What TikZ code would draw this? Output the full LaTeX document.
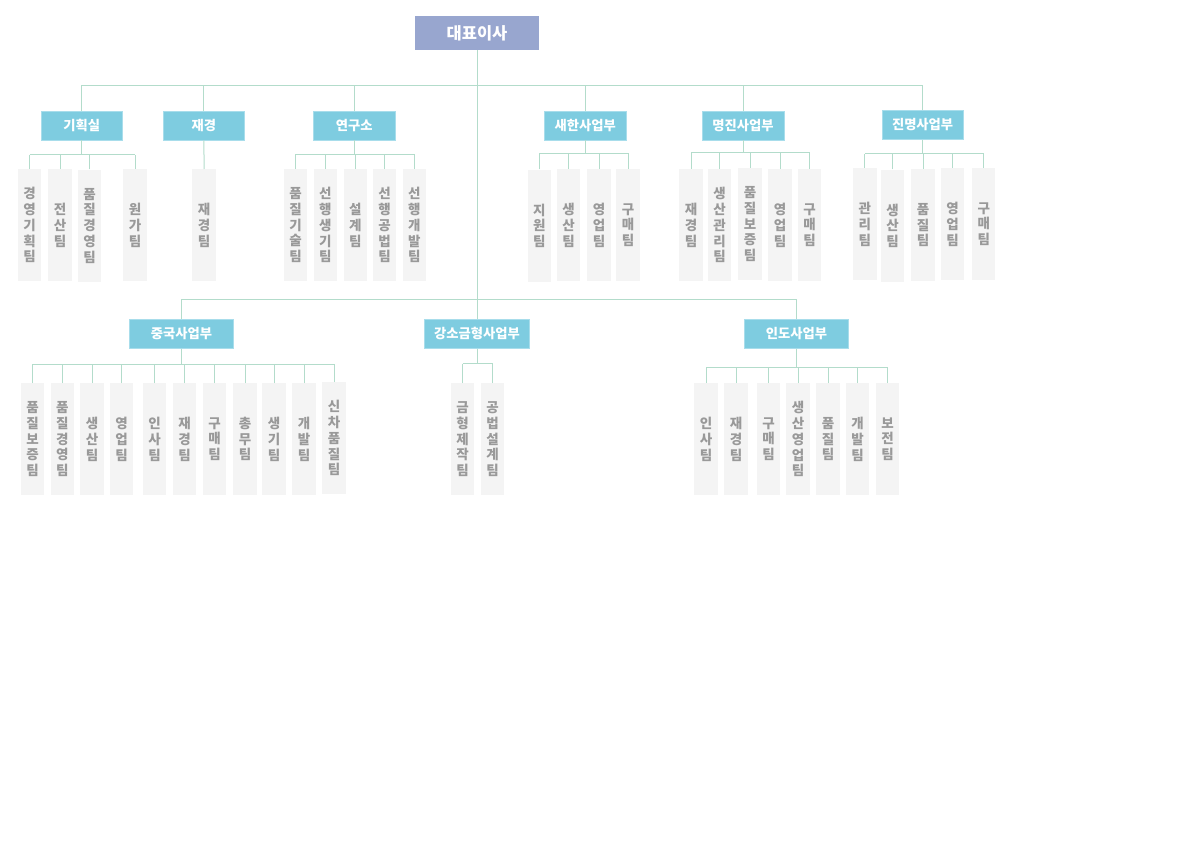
\documentclass[tikz,border=0pt]{standalone}
\usepackage{fontspec}
\newfontfamily\kr{Noto Sans CJK KR}
\definecolor{ceoblue}{HTML}{98A6CF}
\definecolor{deptblue}{HTML}{7ECCE0}
\definecolor{deptborder}{HTML}{A8DDEB}
\definecolor{linegreen}{HTML}{B3DCCB}
\definecolor{leafgray}{HTML}{F4F4F4}
\definecolor{leaftext}{HTML}{999999}
\tikzset{
  conn/.style={draw=linegreen, line width=1pt},
  ceo/.style={fill=ceoblue, minimum width=124, minimum height=34, inner sep=0,
    text=white, font=\kr\bfseries\fontsize{16.5}{19}\selectfont},
  dept/.style={fill=deptblue, draw=deptborder, line width=0.8, minimum height=29,
    inner sep=0, text=white, font=\kr\bfseries\fontsize{13.3}{15}\selectfont},
  leaf/.style={fill=leafgray, minimum width=23.5, minimum height=112, inner sep=0,
    text=leaftext, align=center, anchor=north,
    font=\kr\bfseries\fontsize{13.5}{15.7}\selectfont},
}
\begin{document}
\begin{tikzpicture}[x=1pt,y=-1pt]
\useasboundingbox[fill=white] (0,0) rectangle (1191,842);

% CEO
\node[ceo] (ceo) at (477,33.3) {대표이사};

% top-level departments
\node[dept, minimum width=81] (kh) at (81.8,125.5) {기획실};
\node[dept, minimum width=81] (jg) at (203.8,125.5) {재경};
\node[dept, minimum width=82] (yg) at (354.3,125.5) {연구소};
\node[dept, minimum width=82] (sh) at (585.3,125.5) {새한사업부};
\node[dept, minimum width=82] (mj) at (743,125.5) {명진사업부};
\node[dept, minimum width=81] (jmg) at (922.6,125) {진명사업부};

% second-level departments
\node[dept, minimum width=104] (cn) at (181.5,333.8) {중국사업부};
\node[dept, minimum width=105] (gs) at (477,333.8) {강소금형사업부};
\node[dept, minimum width=104] (ind) at (796.5,333.8) {인도사업부};

% leaves: 기획실
\node[leaf] (k1) at (29.5,169) {경\\영\\기\\획\\팀};
\node[leaf] (k2) at (60,169) {전\\산\\팀};
\node[leaf] (k3) at (89.5,169.5) {품\\질\\경\\영\\팀};
\node[leaf] (k4) at (135,169) {원\\가\\팀};
% 재경
\node[leaf] (j1) at (204.2,169) {재\\경\\팀};
% 연구소
\node[leaf] (y1) at (295.5,169) {품\\질\\기\\술\\팀};
\node[leaf] (y2) at (325.3,169) {선\\행\\생\\기\\팀};
\node[leaf] (y3) at (355.3,169) {설\\계\\팀};
\node[leaf] (y4) at (384.5,169) {선\\행\\공\\법\\팀};
\node[leaf] (y5) at (414.3,169) {선\\행\\개\\발\\팀};
% 새한
\node[leaf] (s1) at (539.3,169.5) {지\\원\\팀};
\node[leaf] (s2) at (568.7,169) {생\\산\\팀};
\node[leaf] (s3) at (599,169) {영\\업\\팀};
\node[leaf] (s4) at (628,169) {구\\매\\팀};
% 명진
\node[leaf] (m1) at (691.2,169) {재\\경\\팀};
\node[leaf] (m2) at (719.5,169) {생\\산\\관\\리\\팀};
\node[leaf] (m3) at (750,168) {품\\질\\보\\증\\팀};
\node[leaf] (m4) at (780,169) {영\\업\\팀};
\node[leaf] (m5) at (809.5,169) {구\\매\\팀};
% 진명
\node[leaf] (n1) at (864.8,168) {관\\리\\팀};
\node[leaf] (n2) at (892.5,169.5) {생\\산\\팀};
\node[leaf] (n3) at (923,169) {품\\질\\팀};
\node[leaf] (n4) at (952.5,168) {영\\업\\팀};
\node[leaf] (n5) at (983.7,168) {구\\매\\팀};
% 중국
\node[leaf] (c1) at (32.5,383) {품\\질\\보\\증\\팀};
\node[leaf] (c2) at (62.3,383) {품\\질\\경\\영\\팀};
\node[leaf] (c3) at (92,383) {생\\산\\팀};
\node[leaf] (c4) at (121.5,383) {영\\업\\팀};
\node[leaf] (c5) at (154.5,383) {인\\사\\팀};
\node[leaf] (c6) at (184.5,383) {재\\경\\팀};
\node[leaf] (c7) at (214.5,383) {구\\매\\팀};
\node[leaf] (c8) at (245,383) {총\\무\\팀};
\node[leaf] (c9) at (274,383) {생\\기\\팀};
\node[leaf] (c10) at (304,383) {개\\발\\팀};
\node[leaf] (c11) at (334,382) {신\\차\\품\\질\\팀};
% 강소금형
\node[leaf] (g1) at (462.5,383) {금\\형\\제\\작\\팀};
\node[leaf] (g2) at (492.5,383) {공\\법\\설\\계\\팀};
% 인도
\node[leaf] (i1) at (706,383) {인\\사\\팀};
\node[leaf] (i2) at (736,383) {재\\경\\팀};
\node[leaf] (i3) at (768.5,383) {구\\매\\팀};
\node[leaf] (i4) at (798,383) {생\\산\\영\\업\\팀};
\node[leaf] (i5) at (828,383) {품\\질\\팀};
\node[leaf] (i6) at (857.5,383) {개\\발\\팀};
\node[leaf] (i7) at (887.5,383) {보\\전\\팀};

% bus coordinates
\coordinate (bTop) at (0,85.3);
\coordinate (bMid) at (0,299.3);
\coordinate (bKH) at (0,155);
\coordinate (bYG) at (0,154.3);
\coordinate (bSH) at (0,153.3);
\coordinate (bMJ) at (0,152.3);
\coordinate (bJM) at (0,153.7);
\coordinate (bCN) at (0,364);
\coordinate (bGS) at (0,363.5);
\coordinate (bIN) at (0,367.7);

% CEO connectors
\draw[conn] (ceo.south) -- (gs.north);
\draw[conn] (kh.north |- bTop) -- (jmg.north |- bTop);
\foreach \d in {kh,jg,yg,sh,mj,jmg} \draw[conn] (\d.north) -- (\d.north |- bTop);
\draw[conn] (cn.north |- bMid) -- (ind.north |- bMid);
\foreach \d in {cn,ind} \draw[conn] (\d.north) -- (\d.north |- bMid);

% 기획실
\draw[conn] (kh.south) -- (kh.south |- bKH);
\draw[conn] (k1.north |- bKH) -- (k4.north |- bKH);
\foreach \c in {k1,k2,k3,k4} \draw[conn] (\c.north) -- (\c.north |- bKH);
% 재경
\draw[conn] (jg.south) -- (j1.north);
% 연구소
\draw[conn] (yg.south) -- (yg.south |- bYG);
\draw[conn] (y1.north |- bYG) -- (y5.north |- bYG);
\foreach \c in {y1,y2,y3,y4,y5} \draw[conn] (\c.north) -- (\c.north |- bYG);
% 새한
\draw[conn] (sh.south) -- (sh.south |- bSH);
\draw[conn] (s1.north |- bSH) -- (s4.north |- bSH);
\foreach \c in {s1,s2,s3,s4} \draw[conn] (\c.north) -- (\c.north |- bSH);
% 명진
\draw[conn] (mj.south) -- (mj.south |- bMJ);
\draw[conn] (m1.north |- bMJ) -- (m5.north |- bMJ);
\foreach \c in {m1,m2,m3,m4,m5} \draw[conn] (\c.north) -- (\c.north |- bMJ);
% 진명
\draw[conn] (jmg.south) -- (jmg.south |- bJM);
\draw[conn] (n1.north |- bJM) -- (n5.north |- bJM);
\foreach \c in {n1,n2,n3,n4,n5} \draw[conn] (\c.north) -- (\c.north |- bJM);
% 중국
\draw[conn] (cn.south) -- (cn.south |- bCN);
\draw[conn] (c1.north |- bCN) -- (c11.north |- bCN);
\foreach \c in {c1,c2,c3,c4,c5,c6,c7,c8,c9,c10,c11} \draw[conn] (\c.north) -- (\c.north |- bCN);
% 강소금형
\draw[conn] (gs.south) -- (gs.south |- bGS);
\draw[conn] (g1.north |- bGS) -- (g2.north |- bGS);
\foreach \c in {g1,g2} \draw[conn] (\c.north) -- (\c.north |- bGS);
% 인도
\draw[conn] (ind.south) -- (ind.south |- bIN);
\draw[conn] (i1.north |- bIN) -- (i7.north |- bIN);
\foreach \c in {i1,i2,i3,i4,i5,i6,i7} \draw[conn] (\c.north) -- (\c.north |- bIN);
\end{tikzpicture}
\end{document}
